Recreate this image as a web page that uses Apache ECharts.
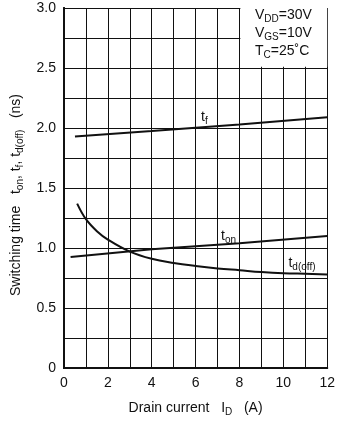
<!DOCTYPE html>
<html>
<head>
<meta charset="utf-8">
<script src="https://cdn.jsdelivr.net/npm/echarts@6/dist/echarts.min.js"></script>
<style>
html, body { margin: 0; padding: 0; background: #fff; }
#chart { width: 338px; height: 423px; }
</style>
</head>
<body>
<div id="chart"></div>
<script>
// drain current (A) / switching time (ns)
var tfX = [0.5, 4, 8, 12];
var tfY = [1.93, 1.975, 2.03, 2.09];
var tonX = [0.3, 4, 8, 12];
var tonY = [0.925, 0.99, 1.04, 1.10];
var tdoffX = [0.6, 1, 1.5, 2, 3, 4, 5, 6, 7, 8, 9, 10, 11, 12];
var tdoffY = [1.37, 1.24, 1.14, 1.07, 0.97, 0.91, 0.875, 0.85, 0.83, 0.815, 0.80, 0.79, 0.785, 0.78];

var xTickLabels = ['0', '2', '4', '6', '8', '10', '12'];
var yTickLabels = ['0', '0.5', '1.0', '1.5', '2.0', '2.5', '3.0'];
var conditions = ['V{s|DD}=30V', 'V{s|GS}=10V', 'T{s|C}=25˚C'];

var font = 'Liberation Sans, Arial, Helvetica, sans-serif';
var sub = { fontSize: 10, fontFamily: font, color: '#111', verticalAlign: 'bottom', padding: [0, 0, -2, 0] };

function pairs(xs, ys) {
    return xs.map(function (x, i) { return [x, ys[i]]; });
}

function curveLabel(x, y, text) {
    return {
        coord: [x, y],
        symbol: 'circle',
        symbolSize: 0,
        label: {
            show: true,
            position: 'inside',
            formatter: text,
            color: '#111',
            fontSize: 14,
            fontFamily: font,
            rich: { s: sub }
        }
    };
}

var lineStyle = { color: '#111', width: 2 };

var option = {
    animation: false,
    backgroundColor: '#fff',
    grid: { left: 64, right: 6, top: 8, bottom: 55 },
    xAxis: [
        {
            type: 'value',
            min: 0, max: 12, interval: 1,
            name: 'Drain current   I{s|D}   (A)',
            nameLocation: 'middle',
            nameGap: 33,
            nameTextStyle: { color: '#111', fontSize: 14, fontFamily: font, rich: { s: sub } },
            axisLine: { show: true, lineStyle: { color: '#111', width: 2 } },
            axisTick: { show: false },
            axisLabel: {
                color: '#111', fontSize: 14, fontFamily: font, margin: 8,
                formatter: function (v) {
                    var i = xTickLabels.indexOf(String(v));
                    return i >= 0 ? xTickLabels[i] : '';
                }
            },
            splitLine: { show: true, lineStyle: { color: '#111', width: 1 } }
        },
        {
            type: 'value', position: 'top', min: 0, max: 12, z: 5,
            axisLine: { show: true, lineStyle: { color: '#111', width: 2 } },
            axisTick: { show: false }, axisLabel: { show: false }, splitLine: { show: false }
        }
    ],
    yAxis: [
        {
            type: 'value',
            min: 0, max: 3, interval: 0.25,
            name: 'Switching time   t{s|on}, t{s|f}, t{s|d(off)}   (ns)',
            nameLocation: 'middle',
            nameGap: 40,
            nameTextStyle: { color: '#111', fontSize: 14, fontFamily: font, rich: { s: sub }, padding: [0, 14, 0, 0] },
            axisLine: { show: true, lineStyle: { color: '#111', width: 2 } },
            axisTick: { show: false },
            axisLabel: {
                color: '#111', fontSize: 14, fontFamily: font, margin: 8,
                formatter: function (v) {
                    var k = Math.round(v * 2);
                    if (Math.abs(v * 2 - k) > 1e-6) return '';
                    return yTickLabels[k];
                }
            },
            splitLine: { show: true, lineStyle: { color: '#111', width: 1 } }
        },
        {
            type: 'value', position: 'right', min: 0, max: 3, z: 5,
            axisLine: { show: true, lineStyle: { color: '#111', width: 2 } },
            axisTick: { show: false }, axisLabel: { show: false }, splitLine: { show: false }
        }
    ],
    graphic: [
        {
            type: 'text',
            left: 255,
            top: 6,
            z: 10,
            style: {
                text: conditions.join('\n'),
                fill: '#111',
                font: '14px ' + font,
                lineHeight: 18,
                rich: { s: { fontSize: 10, fontFamily: font, fill: '#111', verticalAlign: 'bottom', lineHeight: 18 } }
            }
        }
    ],
    series: [
        {
            name: 'tf',
            type: 'line',
            data: pairs(tfX, tfY),
            showSymbol: false,
            lineStyle: lineStyle,
            markPoint: { silent: true, data: [curveLabel(6.4, 2.09, 't{s|f}')] },
            markArea: {
                silent: true,
                itemStyle: { color: '#fff', opacity: 1 },
                data: [[{ coord: [8.04, 2.51] }, { coord: [12, 3] }]]
            }
        },
        {
            name: 'ton',
            type: 'line',
            data: pairs(tonX, tonY),
            showSymbol: false,
            lineStyle: lineStyle,
            markPoint: { silent: true, data: [curveLabel(7.5, 1.10, 't{s|on}')] }
        },
        {
            name: 'td(off)',
            type: 'line',
            smooth: 0.4,
            data: pairs(tdoffX, tdoffY),
            showSymbol: false,
            lineStyle: lineStyle,
            markPoint: { silent: true, data: [curveLabel(10.85, 0.87, 't{s|d(off)}')] }
        }
    ]
};

var myChart = echarts.init(document.getElementById('chart'));
myChart.setOption(option);
</script>
</body>
</html>
